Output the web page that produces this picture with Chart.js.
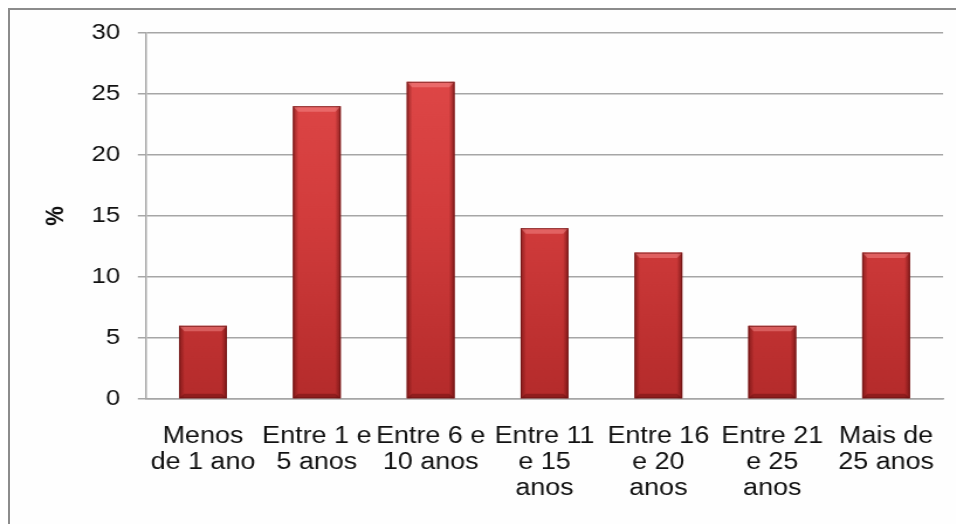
<!DOCTYPE html>
<html>
<head>
<meta charset="utf-8">
<script src="https://cdn.jsdelivr.net/npm/chart.js@4/dist/chart.umd.min.js"></script>
<style>
  html, body { margin: 0; padding: 0; background: #ffffff; overflow: hidden; width: 956px; height: 524px; }
  #frame { position: absolute; left: 8px; top: 8px; width: 1000px; height: 600px;
           border-left: 2px solid #8c8c8c; border-top: 2px solid #8c8c8c; box-sizing: border-box; background: #fefefe; }
  #wrap { position: absolute; left: 0; top: 0; width: 817px; height: 524px;
          transform: scaleX(1.17); transform-origin: 0 0; }
</style>
</head>
<body>
<div id="frame"></div>
<div id="wrap"><canvas id="c" width="817" height="524"></canvas></div>
<script>
const categories = [
  ["Menos", "de 1 ano"],
  ["Entre 1 e", "5 anos"],
  ["Entre 6 e", "10 anos"],
  ["Entre 11", "e 15", "anos"],
  ["Entre 16", "e 20", "anos"],
  ["Entre 21", "e 25", "anos"],
  ["Mais de", "25 anos"]
];
const percentValues = [6, 24, 26, 14, 12, 6, 12];
const yTicks = [0, 5, 10, 15, 20, 25, 30];
const yTitle = "%";

const FONT = "'Liberation Sans', Arial, sans-serif";

const bevelPlugin = {
  id: 'bevel',
  afterDatasetsDraw(chart) {
    const ctx = chart.ctx;
    const meta = chart.getDatasetMeta(0);
    meta.data.forEach(bar => {
      const w = bar.width;
      const l = bar.x - w / 2, r = bar.x + w / 2;
      const t = bar.y, b = bar.base;
      const e = 4.5;
      ctx.save();
      let g = ctx.createLinearGradient(l, 0, l + e, 0);
      g.addColorStop(0, 'rgba(90,10,10,0.55)');
      g.addColorStop(1, 'rgba(90,10,10,0.05)');
      ctx.fillStyle = g;
      ctx.fillRect(l, t, e, b - t);
      g = ctx.createLinearGradient(r - e, 0, r, 0);
      g.addColorStop(0, 'rgba(90,10,10,0.05)');
      g.addColorStop(1, 'rgba(90,10,10,0.6)');
      ctx.fillStyle = g;
      ctx.fillRect(r - e, t, e, b - t);
      ctx.beginPath();
      ctx.moveTo(l, t); ctx.lineTo(r, t); ctx.lineTo(r - e, t + e + 1); ctx.lineTo(l + e, t + e + 1); ctx.closePath();
      ctx.fillStyle = 'rgba(255,160,160,0.4)';
      ctx.fill();
      ctx.beginPath();
      ctx.moveTo(l, b); ctx.lineTo(r, b); ctx.lineTo(r - e, b - e); ctx.lineTo(l + e, b - e); ctx.closePath();
      ctx.fillStyle = 'rgba(90,10,10,0.4)';
      ctx.fill();
      ctx.strokeStyle = 'rgba(110,20,20,0.75)';
      ctx.lineWidth = 1;
      ctx.strokeRect(l + 0.5, t + 0.5, w - 1, b - t - 1);
      ctx.restore();
    });
  }
};

new Chart(document.getElementById('c'), {
  type: 'bar',
  data: {
    labels: categories,
    datasets: [{
      data: percentValues,
      backgroundColor: (context) => {
        const area = context.chart.chartArea;
        if (!area) return '#d03a3a';
        const g = context.chart.ctx.createLinearGradient(0, area.top, 0, area.bottom);
        g.addColorStop(0, '#e24a4a');
        g.addColorStop(0.5, '#d23c3c');
        g.addColorStop(1, '#b42b2b');
        return g;
      },
      borderWidth: 0,
      categoryPercentage: 1.0,
      barPercentage: 0.42
    }]
  },
  options: {
    responsive: false,
    animation: false,
    events: [],
    layout: { padding: { top: 33, right: 11, left: 0, bottom: 0 } },
    plugins: { legend: { display: false }, tooltip: { enabled: false }, title: { display: false } },
    scales: {
      x: {
        grid: { display: false, drawTicks: false },
        border: { display: true, color: '#a6a6a6', width: 1.5 },
        ticks: {
          color: '#111', font: { family: FONT, size: 23, lineHeight: 1.15 }, padding: 24,
          maxRotation: 0, autoSkip: false
        },
        afterFit: (axis) => { axis.height = 125; axis.paddingRight = 0; axis.paddingLeft = 0; }
      },
      y: {
        min: 0, max: 30,
        afterBuildTicks: (axis) => { axis.ticks = yTicks.map(v => ({ value: v })); },
        grid: { color: '#a6a6a6', lineWidth: 1.5, tickLength: 7, drawTicks: true },
        border: { display: true, color: '#a6a6a6', width: 1.5 },
        ticks: { color: '#111', font: { family: FONT, size: 22 }, padding: 15 },
        title: { display: true, text: yTitle, color: '#111', font: { family: FONT, size: 22, weight: 'bold' }, padding: { top: 35, bottom: 0 } },
        afterFit: (axis) => { axis.width = 124.8; }
      }
    }
  },
  plugins: [bevelPlugin]
});
</script>
</body>
</html>
